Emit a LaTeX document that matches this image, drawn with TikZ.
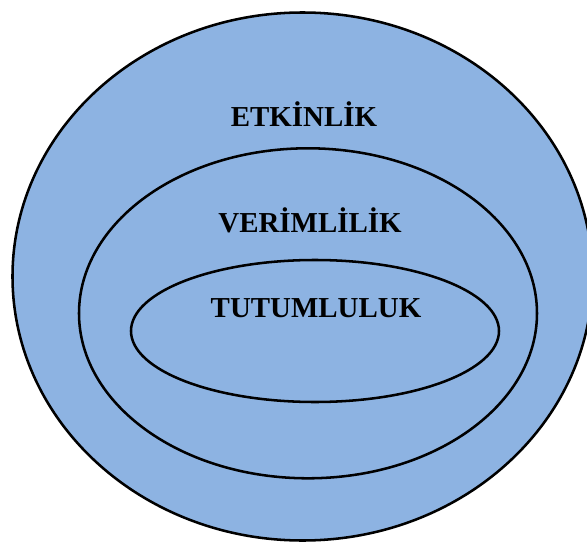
\documentclass[tikz,border=0pt]{standalone}
\usepackage{fontspec}
\setmainfont{Liberation Serif}
\definecolor{ringblue}{RGB}{141,179,226}
\begin{document}
\begin{tikzpicture}[x=0.75pt,y=-0.75pt,
  ring/.style={draw=black,line width=1.9pt},
  lab/.style={font=\fontsize{21.7pt}{24pt}\selectfont\bfseries,inner sep=0pt,anchor=base}]
\useasboundingbox (0,0) rectangle (587,543);
\draw[ring,fill=ringblue] (302.5,276.5) ellipse [x radius=290, y radius=264];
\draw[ring] (308,313.3) ellipse [x radius=229, y radius=165];
\draw[ring] (315,331) ellipse [x radius=184, y radius=71];
\node[lab] (etk) at (304,126) {ETKİNLİK};
\node[lab] (ver) at (310,232) {VERİMLİLİK};
\node[lab] (tut) at (316,317) {TUTUMLULUK};
\end{tikzpicture}
\end{document}
